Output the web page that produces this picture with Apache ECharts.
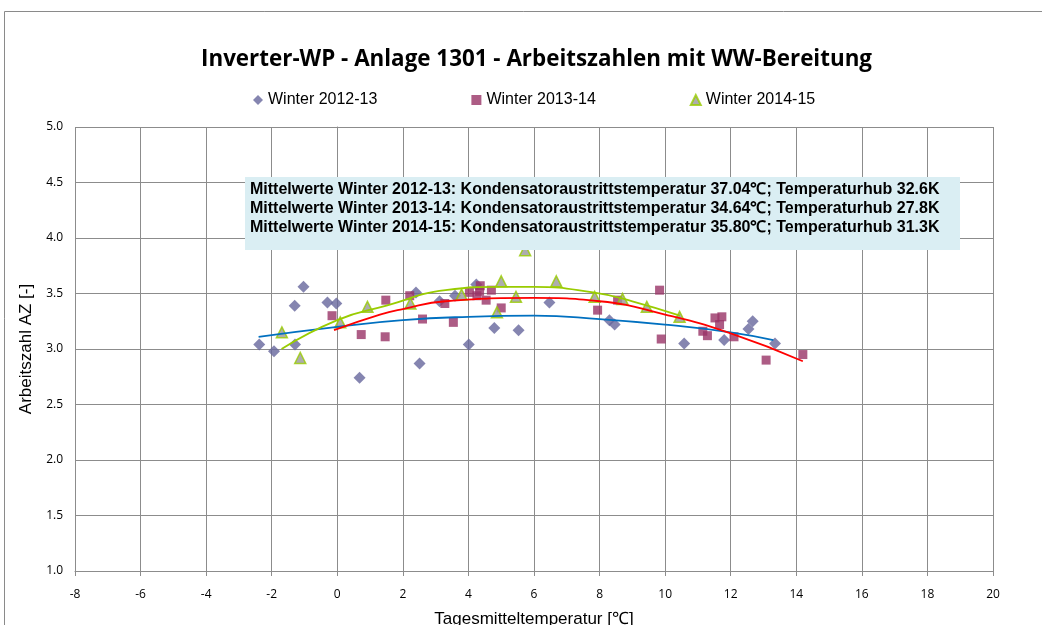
<!DOCTYPE html>
<html>
<head>
<meta charset="utf-8">
<script src="https://cdn.jsdelivr.net/npm/echarts@6/dist/echarts.min.js"></script>
<style>
  html, body { margin: 0; padding: 0; background: #fff; }
  #chart { width: 1042px; height: 625px; }
</style>
</head>
<body>
<div id="chart"></div>
<script>
'use strict';

// tick labels
const xTicks = [-8, -6, -4, -2, 0, 2, 4, 6, 8, 10, 12, 14, 16, 18, 20];
const yTicks = [1.0, 1.5, 2.0, 2.5, 3.0, 3.5, 4.0, 4.5, 5.0];

const seriesNames = ['Winter 2012-13', 'Winter 2013-14', 'Winter 2014-15'];

// [Tagesmitteltemperatur, Arbeitszahl]
const winter1213 = [
  [-2.38, 3.04], [-1.93, 2.98], [-1.29, 3.04], [-1.30, 3.39], [-1.03, 3.56],
  [-0.30, 3.42], [-0.03, 3.41], [0.68, 2.74], [2.40, 3.51], [2.51, 2.87],
  [3.12, 3.43], [3.59, 3.48], [4.01, 3.04], [4.24, 3.58], [4.79, 3.19],
  [5.53, 3.17], [6.47, 3.42], [8.30, 3.26], [8.46, 3.22], [10.58, 3.05],
  [11.80, 3.08], [12.54, 3.18], [12.67, 3.25], [13.35, 3.05]
];
const winter1314 = [
  [-0.16, 3.30], [0.73, 3.13], [1.48, 3.44], [1.46, 3.11], [2.21, 3.48],
  [2.60, 3.27], [3.28, 3.41], [3.54, 3.24], [4.03, 3.51], [4.36, 3.57],
  [4.26, 3.48], [4.34, 3.52], [4.54, 3.44], [4.70, 3.53], [5.00, 3.37],
  [7.94, 3.35], [8.55, 3.44], [9.83, 3.53], [9.88, 3.09], [11.15, 3.16],
  [11.29, 3.12], [11.52, 3.28], [11.73, 3.29], [11.66, 3.22], [12.10, 3.11],
  [13.08, 2.90], [14.20, 2.95]
];
const winter1415 = [
  [-1.69, 3.15], [-1.13, 2.92], [0.09, 3.24], [0.92, 3.38], [2.23, 3.41],
  [3.79, 3.49], [4.87, 3.33], [5.00, 3.61], [5.45, 3.47], [5.73, 3.89],
  [6.68, 3.61], [7.85, 3.47], [8.70, 3.45], [9.44, 3.38], [10.44, 3.29]
];

// trend lines (polynomial)
const trend1213 = [
  [-2.4, 3.11], [0, 3.20], [2, 3.26], [4, 3.29], [6, 3.30],
  [8, 3.27], [10, 3.22], [12, 3.15], [13.3, 3.08]
];
const trend1314 = [
  [-0.1, 3.17], [1.3, 3.31], [2, 3.36], [3.3, 3.43], [6, 3.46],
  [8, 3.43], [10, 3.31], [12, 3.14], [14.2, 2.89]
];
const trend1415 = [
  [-1.7, 3.0], [0, 3.26], [1.5, 3.39], [3.3, 3.53], [5, 3.56],
  [6, 3.56], [7.8, 3.51], [9, 3.43], [10.45, 3.30]
];

const noteLines = [
  'Mittelwerte Winter 2012-13: Kondensatoraustrittstemperatur 37.04\u2103; Temperaturhub 32.6K',
  'Mittelwerte Winter 2013-14: Kondensatoraustrittstemperatur 34.64\u2103; Temperaturhub 27.8K',
  'Mittelwerte Winter 2014-15: Kondensatoraustrittstemperatur 35.80\u2103; Temperaturhub 31.3K'
];

const chart = echarts.init(document.getElementById('chart'));
const gridColor = '#8c8c8c';

function trendSeries(data, color) {
  return {
    type: 'line',
    data: data,
    smooth: true,
    showSymbol: false,
    silent: true,
    z: 3,
    lineStyle: { color: color, width: 1.8 }
  };
}

chart.setOption({
  animation: false,
  backgroundColor: '#fff',
  title: {
    text: 'Inverter-WP - Anlage 1301 - Arbeitszahlen mit WW-Bereitung',
    left: 196,
    top: 44,
    textStyle: { fontFamily: 'Open Sans', fontWeight: 'bold', fontSize: 22.4, color: '#000' }
  },
  legend: {
    data: [
      { name: seriesNames[0], icon: 'diamond' },
      { name: seriesNames[1], icon: 'rect' },
      { name: seriesNames[2], icon: 'triangle' }
    ],
    top: 87,
    left: 248,
    itemGap: 94,
    itemWidth: 10,
    itemHeight: 10,
    textStyle: { fontFamily: 'Liberation Sans', fontSize: 16, color: '#000' }
  },
  grid: { left: 75, right: 49, top: 127, bottom: 54, outerBoundsMode: 'none' },
  xAxis: {
    type: 'value',
    min: xTicks[0],
    max: xTicks[xTicks.length - 1],
    interval: 2,
    name: 'Tagesmitteltemperatur [\u2103]',
    nameLocation: 'middle',
    nameGap: 40,
    nameTextStyle: { fontFamily: 'Liberation Sans', fontSize: 17, color: '#000' },
    axisLine: { lineStyle: { color: gridColor } },
    axisTick: { show: true, length: 5, lineStyle: { color: gridColor } },
    axisLabel: { fontFamily: 'Open Sans', fontSize: 12, color: '#000', margin: 18 },
    splitLine: { lineStyle: { color: gridColor, width: 1 } }
  },
  yAxis: {
    type: 'value',
    min: yTicks[0],
    max: yTicks[yTicks.length - 1],
    interval: 0.5,
    name: 'Arbeitszahl AZ [-]',
    nameLocation: 'middle',
    nameGap: 30,
    nameTextStyle: { fontFamily: 'Liberation Sans', fontSize: 17, color: '#000' },
    axisLine: { show: true, lineStyle: { color: gridColor } },
    axisTick: { show: true, length: 5, lineStyle: { color: gridColor } },
    axisLabel: {
      fontFamily: 'Open Sans', fontSize: 12, color: '#000', margin: 12,
      formatter: function(v) { return v.toFixed(1); }
    },
    splitLine: { lineStyle: { color: gridColor, width: 1 } }
  },
  graphic: [
    {
      type: 'rect',
      shape: { x: 4.5, y: 11.5, width: 1100, height: 700 },
      style: { fill: 'none', stroke: '#8a8a8a', lineWidth: 1 },
      silent: true
    },
    {
      type: 'rect',
      shape: { x: 245, y: 177, width: 715, height: 73 },
      style: { fill: '#daeef3' },
      z: 10,
      silent: true
    },
    {
      type: 'text',
      left: 250,
      top: 180,
      z: 11,
      silent: true,
      style: {
        text: noteLines.join('\n'),
        fontFamily: 'Liberation Sans',
        fontWeight: 'bold',
        fontSize: 16,
        lineHeight: 19,
        fill: '#000'
      }
    }
  ],
  series: [
    {
      name: seriesNames[0],
      type: 'scatter',
      data: winter1213,
      symbol: 'diamond',
      symbolSize: 12,
      z: 2,
      itemStyle: { color: '#66669c' }
    },
    {
      name: seriesNames[1],
      type: 'scatter',
      data: winter1314,
      symbol: 'rect',
      symbolSize: 9,
      z: 2,
      itemStyle: { color: '#993366' }
    },
    {
      name: seriesNames[2],
      type: 'scatter',
      data: winter1415,
      symbol: 'triangle',
      symbolSize: 11,
      z: 2,
      itemStyle: { color: '#999999', borderColor: '#99cc00', borderWidth: 1.5 }
    },
    trendSeries(trend1213, '#0070c0'),
    trendSeries(trend1314, '#ff0000'),
    trendSeries(trend1415, '#99cc00')
  ]
});
</script>
</body>
</html>
